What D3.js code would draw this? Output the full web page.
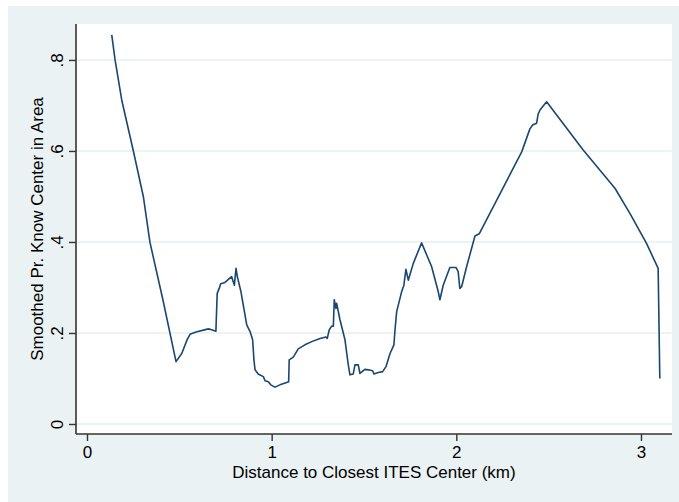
<!DOCTYPE html>
<html>
<head>
<meta charset="utf-8">
<script src="https://cdn.jsdelivr.net/npm/d3@7"></script>
<style>
  html, body { margin: 0; padding: 0; background: #ffffff; }
  svg { display: block; }
  text { font-family: "Liberation Sans", Arial, sans-serif; fill: #000; }
</style>
</head>
<body>
<svg id="chart" width="679" height="502"></svg>
<script>
// Distance to closest ITES center (km)
const distanceKm = [
  0.134, 0.152, 0.188, 0.251, 0.305, 0.341, 0.411, 0.482, 0.513, 0.543,
  0.558, 0.590, 0.657, 0.675, 0.698, 0.705, 0.716, 0.724, 0.747, 0.783,
  0.798, 0.807, 0.814, 0.834, 0.865, 0.883, 0.897, 0.904, 0.910, 0.927,
  0.955, 0.964, 0.982, 0.995, 1.018, 1.045, 1.081, 1.092, 1.095, 1.117,
  1.144, 1.180, 1.217, 1.262, 1.294, 1.301, 1.312, 1.325, 1.334, 1.339,
  1.348, 1.352, 1.370, 1.397, 1.409, 1.415, 1.424, 1.442, 1.451, 1.469,
  1.478, 1.505, 1.523, 1.547, 1.554, 1.577, 1.601, 1.619, 1.641, 1.662,
  1.668, 1.677, 1.704, 1.716, 1.727, 1.740, 1.767, 1.812, 1.866, 1.902,
  1.911, 1.929, 1.965, 1.998, 2.010, 2.019, 2.029, 2.056, 2.101, 2.124,
  2.354, 2.398, 2.413, 2.435, 2.443, 2.453, 2.489, 2.687, 2.859, 2.940,
  3.030, 3.093, 3.102
];

// Smoothed probability of knowing a center in the area
const smoothedPr = [
  0.855, 0.800, 0.712, 0.600, 0.500, 0.399, 0.273, 0.137, 0.155, 0.186,
  0.197, 0.202, 0.209, 0.207, 0.204, 0.287, 0.298, 0.308, 0.311, 0.324,
  0.305, 0.342, 0.324, 0.290, 0.218, 0.203, 0.185, 0.141, 0.119, 0.110,
  0.104, 0.095, 0.093, 0.086, 0.081, 0.086, 0.091, 0.093, 0.141, 0.147,
  0.165, 0.174, 0.181, 0.188, 0.191, 0.188, 0.207, 0.215, 0.215, 0.273,
  0.254, 0.265, 0.229, 0.185, 0.148, 0.130, 0.108, 0.110, 0.130, 0.130,
  0.111, 0.120, 0.119, 0.117, 0.110, 0.113, 0.115, 0.126, 0.155, 0.174,
  0.207, 0.247, 0.291, 0.305, 0.340, 0.316, 0.353, 0.398, 0.346, 0.291,
  0.273, 0.305, 0.344, 0.344, 0.335, 0.298, 0.302, 0.346, 0.413, 0.418,
  0.598, 0.648, 0.657, 0.661, 0.681, 0.690, 0.708, 0.602, 0.518, 0.463,
  0.397, 0.342, 0.100
];

const xTicks = [0, 1, 2, 3];
const xTickLabels = ["0", "1", "2", "3"];
const yTicks = [0, 0.2, 0.4, 0.6, 0.8];
const yTickLabels = ["0", ".2", ".4", ".6", ".8"];

const xTitle = "Distance to Closest ITES Center (km)";
const yTitle = "Smoothed Pr. Know Center in Area";

const data = distanceKm.map((d, i) => ({ x: d, y: smoothedPr[i] }));

const svg = d3.select("#chart");
const W = 679, H = 502;
const plot = { left: 76, right: 672, top: 24, bottom: 434 };
const FONT = 17;

// Outer graph region (Stata s2color style)
svg.append("rect")
  .attr("x", 8).attr("y", 6)
  .attr("width", W - 8).attr("height", H - 6)
  .attr("fill", "#eaf2f3");

// Plot region
svg.append("rect")
  .attr("x", plot.left).attr("y", plot.top)
  .attr("width", plot.right - plot.left).attr("height", plot.bottom - plot.top)
  .attr("fill", "#ffffff");

const x = d3.scaleLinear().domain([-0.0596, 3.168]).range([plot.left, plot.right]);
const y = d3.scaleLinear().domain([-0.022, 0.879]).range([plot.bottom, plot.top]);

// Horizontal gridlines
svg.append("g")
  .selectAll("line")
  .data(yTicks)
  .join("line")
  .attr("x1", plot.left).attr("x2", plot.right)
  .attr("y1", d => y(d)).attr("y2", d => y(d))
  .attr("stroke", "#e6eff1")
  .attr("stroke-width", 1.5);

// Data line
svg.append("path")
  .datum(data)
  .attr("fill", "none")
  .attr("stroke", "#1a476f")
  .attr("stroke-width", 1.6)
  .attr("stroke-linejoin", "round")
  .attr("d", d3.line().x(d => x(d.x)).y(d => y(d.y)));

// Y axis
const yAxis = svg.append("g")
  .attr("transform", `translate(${plot.left},0)`)
  .call(d3.axisLeft(y).tickValues(yTicks).tickFormat((d, i) => yTickLabels[i]).tickSize(7).tickSizeOuter(0));
yAxis.select(".domain").attr("stroke", "#333").attr("stroke-width", 1.6)
  .attr("d", `M0,${plot.top}V${plot.bottom}`);
yAxis.selectAll(".tick line").attr("stroke", "#333").attr("stroke-width", 1.4);
yAxis.selectAll(".tick text")
  .attr("font-size", FONT)
  .attr("font-family", "Liberation Sans, Arial, sans-serif")
  .attr("fill", "#000")
  .attr("text-anchor", "middle")
  .attr("x", 0).attr("dy", 0)
  .attr("transform", "translate(-13,0) rotate(-90)")
  .attr("y", 0);

// X axis
const xAxis = svg.append("g")
  .attr("transform", `translate(0,${plot.bottom})`)
  .call(d3.axisBottom(x).tickValues(xTicks).tickFormat((d, i) => xTickLabels[i]).tickSize(7).tickSizeOuter(0));
xAxis.select(".domain").attr("stroke", "#333").attr("stroke-width", 1.6)
  .attr("d", `M${plot.left},0H${plot.right}`);
xAxis.selectAll(".tick line").attr("stroke", "#333").attr("stroke-width", 1.4);
xAxis.selectAll(".tick text")
  .attr("font-size", FONT)
  .attr("font-family", "Liberation Sans, Arial, sans-serif")
  .attr("fill", "#000")
  .attr("y", 24).attr("dy", 0);

// Axis titles
svg.append("text")
  .attr("x", (plot.left + plot.right) / 2)
  .attr("y", 478)
  .attr("text-anchor", "middle")
  .attr("font-size", FONT)
  .text(xTitle);

svg.append("text")
  .attr("transform", `translate(43,${(plot.top + plot.bottom) / 2}) rotate(-90)`)
  .attr("text-anchor", "middle")
  .attr("font-size", FONT)
  .text(yTitle);
</script>
</body>
</html>
